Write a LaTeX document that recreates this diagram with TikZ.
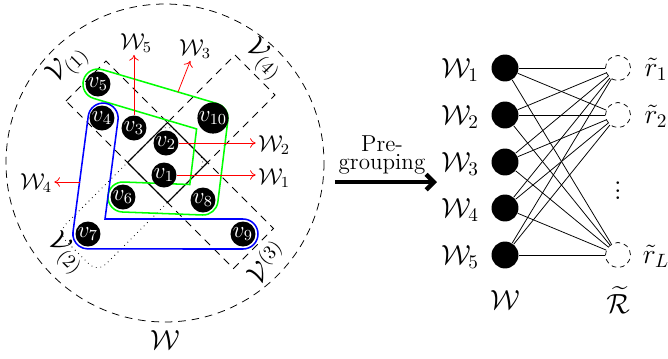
\documentclass[tikz,border=0pt]{standalone}
\usepackage{amsmath}
\usepackage{amssymb}
\usetikzlibrary{arrows.meta,calc}

\begin{document}
\begin{tikzpicture}[x=0.52pt,y=-0.52pt,
    vnode/.style={circle,fill=black,text=white,inner sep=0pt,minimum size=13pt,font=\fontsize{12}{12}\selectfont},
    wnode/.style={circle,fill=black,inner sep=0pt,minimum size=14pt},
    rnode/.style={circle,draw,dash pattern=on 2.5pt off 2pt,inner sep=0pt,minimum size=13pt},
    region/.style={dash pattern=on 4pt off 3pt},
    warrow/.style={red,-{To[length=3pt,width=5pt]}},
    wlab/.style={font=\large,inner sep=1pt}]
  \useasboundingbox (0,0) rectangle (668,358);

  % The whole set
  \draw[region] (165,163) circle[radius=159];
  \node[font=\Large] (wall) at (165,340) {$\mathcal{W}$};

  % Sub-regions
  \draw[region] (66,101) -- (106,61) -- (207.5,162.5) -- (167.5,202.5) -- cycle;
  \draw[region] (127.5,162.5) -- (167.5,122.5) -- (273.5,228.5) -- (233.5,268.5) -- cycle;
  \draw[region] (235,55) -- (275,95) -- (167.5,202.5) -- (127.5,162.5) -- cycle;
  \draw[dotted,rounded corners=6pt] (167.5,122.5) -- (207.5,162.5) -- (97.5,272.5) -- (57.5,232.5) -- cycle;
  \node[font=\Large,rotate=45] (lv1) at (68,65) {$\mathcal{V}_{(1)}$};
  \node[font=\Large,rotate=-45] (lv4) at (264,60) {$\mathcal{V}_{(4)}$};
  \node[font=\Large,rotate=-45] (lv2) at (66,254) {$\mathcal{V}_{(2)}$};
  \node[font=\Large,rotate=45] (lv3) at (266,262) {$\mathcal{V}^{(3)}$};

  % Overlap
  \draw[thin] (127.5,162.5) -- (167.5,122.5) -- (207.5,162.5) -- (167.5,202.5) -- cycle;

  % Groups
  \draw[green,thick] (102.3,69.6) -- (217.3,103.6) arc[start angle=-73.5,end angle=6.9,radius=15]
    -- (217.9,201.8) arc[start angle=6.9,end angle=92.1,radius=15]
    -- (122.4,212) arc[start angle=92.1,end angle=272.1,radius=15]
    -- (189.8,184.5) -- (196.6,128.9) -- (93.7,98.4) arc[start angle=106.5,end angle=286.5,radius=15] -- cycle;
  \draw[blue,thick] (105,219) -- (118,120) arc[start angle=7.4,end angle=-172.6,radius=15]
    -- (73,232) arc[start angle=187.4,end angle=90,radius=15]
    -- (243,249) arc[start angle=90,end angle=-90,radius=15] -- cycle;

  % Users
  \node[vnode] (v1) at (164,175) {$v_1$};
  \node[vnode] (v2) at (166,143) {$v_2$};
  \node[vnode] (v3) at (134,128) {$v_3$};
  \node[vnode] (v4) at (102,118) {$v_4$};
  \node[vnode] (v5) at (98,84) {$v_5$};
  \node[vnode] (v6) at (123,197) {$v_6$};
  \node[vnode] (v7) at (88,234) {$v_7$};
  \node[vnode] (v8) at (203,200) {$v_8$};
  \node[vnode] (v9) at (243,234) {$v_9$};
  \node[vnode] (v10) at (213,118) {$v_{10}$};

  % Group labels
  \node[wlab] (w1) at (274,178) {$\mathcal{W}_1$};
  \node[wlab] (w2) at (274,145) {$\mathcal{W}_2$};
  \node[wlab] (w3) at (195,49) {$\mathcal{W}_3$};
  \node[wlab] (w4) at (36,183) {$\mathcal{W}_4$};
  \node[wlab] (w5) at (136,43) {$\mathcal{W}_5$};
  \coordinate (g3) at (178,92);
  \coordinate (b4) at (79.6,182);
  \draw[warrow] (v1) -- (v1 -| w1.west);
  \draw[warrow] (v2) -- (v2 -| w2.west);
  \draw[warrow] (g3) -- (w3);
  \draw[warrow] (b4) -- (b4 -| w4.east);
  \draw[warrow] (v3) -- (v3 |- w5.south);

  % Pre-grouping
  \coordinate (pg1) at (335,182);
  \coordinate (pg2) at (437,182);
  \draw[line width=2.3pt,-{Straight Barb[length=4pt,width=8pt]}] (pg1) -- (pg2);
  \node[align=center,font=\fontsize{12}{9.5}\selectfont] (pglab) at (382,155) {Pre-\\grouping};

  % Groups and resources
  \node[wnode] (c1) at (505,68) {};
  \node[wnode] (c2) at (505,115) {};
  \node[wnode] (c3) at (505,162) {};
  \node[wnode] (c4) at (505,208) {};
  \node[wnode] (c5) at (505,255) {};
  \node[font=\Large] (lc1) at (460,70) {$\mathcal{W}_1$};
  \node[font=\Large] (lc2) at (460,117) {$\mathcal{W}_2$};
  \node[font=\Large] (lc3) at (460,164) {$\mathcal{W}_3$};
  \node[font=\Large] (lc4) at (460,210) {$\mathcal{W}_4$};
  \node[font=\Large] (lc5) at (460,257) {$\mathcal{W}_5$};
  \node[rnode] (r1) at (618,68) {};
  \node[rnode] (r2) at (618,115) {};
  \node[rnode] (rL) at (618,255) {};
  \node[font=\Large] (lr1) at (656,69) {$\tilde{r}_1$};
  \node[font=\Large] (lr2) at (656,116) {$\tilde{r}_2$};
  \node[font=\Large] (lrL) at (656,256) {$\tilde{r}_L$};
  \node[font=\Large] (rdots) at (618,185) {$\vdots$};
  \node[font=\Large] (wset) at (505,300) {$\mathcal{W}$};
  \node[font=\Large] (rset) at (618,300) {$\widetilde{\mathcal{R}}$};

  % Links
  \draw (c1) -- (r1);
  \draw (c1) -- (r2);
  \draw (c1) -- (rL);
  \draw (c2) -- (r1);
  \draw (c2) -- (r2);
  \draw (c2) -- (rL);
  \draw (c3) -- (r1);
  \draw (c3) -- (r2);
  \draw (c3) -- (rL);
  \draw (c4) -- (r1);
  \draw (c4) -- (r2);
  \draw (c4) -- (rL);
  \draw (c5) -- (r1);
  \draw (c5) -- (r2);
  \draw (c5) -- (rL);
\end{tikzpicture}
\end{document}
